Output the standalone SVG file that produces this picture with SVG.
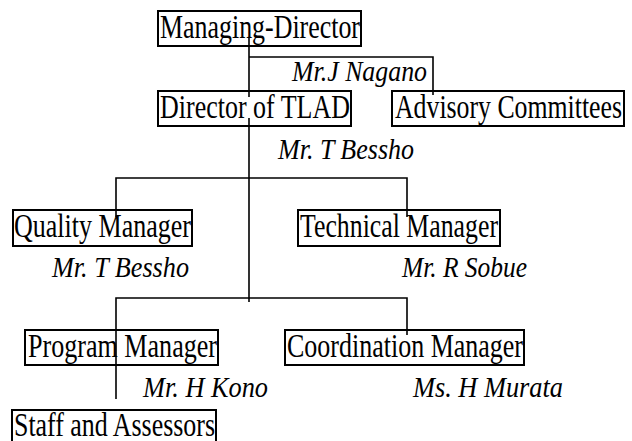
<svg xmlns="http://www.w3.org/2000/svg" width="632" height="441" viewBox="0 0 632 441">
<style>
.box{fill:none;stroke:#000;stroke-width:2}
.lbl{font-family:"Liberation Serif","Times New Roman",serif;font-size:33px;fill:#000}
.nm{font-family:"Liberation Serif","Times New Roman",serif;font-size:30px;font-style:italic;fill:#000}
.ln{fill:none;stroke:#000;stroke-width:1.6}
</style>
<rect width="632" height="441" fill="#fff"/>
<g id="connectors">
<path class="ln" d="M249 38V97M249 57H433V95M249 118V302M116 217V178H407V217M116 399V298H407V335"/>
</g>
<g id="managing-director">
<rect class="box" x="158" y="11" width="203" height="35"/>
<text class="lbl" x="160" y="38" textLength="200" lengthAdjust="spacingAndGlyphs">Managing-Director</text>
<text class="nm" x="292" y="81" textLength="135" lengthAdjust="spacingAndGlyphs">Mr.J Nagano</text>
</g>
<g id="director">
<rect class="box" x="158" y="91" width="193" height="35"/>
<text class="lbl" x="160" y="118" textLength="190" lengthAdjust="spacingAndGlyphs">Director of TLAD</text>
<text class="nm" x="278" y="159" textLength="136" lengthAdjust="spacingAndGlyphs">Mr. T Bessho</text>
</g>
<g id="advisory">
<rect class="box" x="392" y="91" width="232" height="35"/>
<text class="lbl" x="395" y="118" textLength="227" lengthAdjust="spacingAndGlyphs">Advisory Committees</text>
</g>
<g id="quality-manager">
<rect class="box" x="13" y="210" width="179" height="36"/>
<text class="lbl" x="14" y="237" textLength="177" lengthAdjust="spacingAndGlyphs">Quality Manager</text>
<text class="nm" x="52" y="277" textLength="137" lengthAdjust="spacingAndGlyphs">Mr. T Bessho</text>
</g>
<g id="technical-manager">
<rect class="box" x="298" y="210" width="202" height="36"/>
<text class="lbl" x="300" y="237" textLength="198" lengthAdjust="spacingAndGlyphs">Technical Manager</text>
<text class="nm" x="402" y="277" textLength="125" lengthAdjust="spacingAndGlyphs">Mr. R Sobue</text>
</g>
<g id="program-manager">
<rect class="box" x="25" y="330" width="193" height="35"/>
<text class="lbl" x="28" y="357" textLength="189" lengthAdjust="spacingAndGlyphs">Program Manager</text>
<text class="nm" x="143" y="397" textLength="125" lengthAdjust="spacingAndGlyphs">Mr. H Kono</text>
</g>
<g id="coordination-manager">
<rect class="box" x="285" y="330" width="239" height="35"/>
<text class="lbl" x="287" y="357" textLength="236" lengthAdjust="spacingAndGlyphs">Coordination Manager</text>
<text class="nm" x="413" y="397" textLength="150" lengthAdjust="spacingAndGlyphs">Ms. H Murata</text>
</g>
<g id="staff">
<rect class="box" x="12" y="410" width="204" height="36"/>
<text class="lbl" x="14" y="436" textLength="201" lengthAdjust="spacingAndGlyphs">Staff and Assessors</text>
</g>
</svg>
